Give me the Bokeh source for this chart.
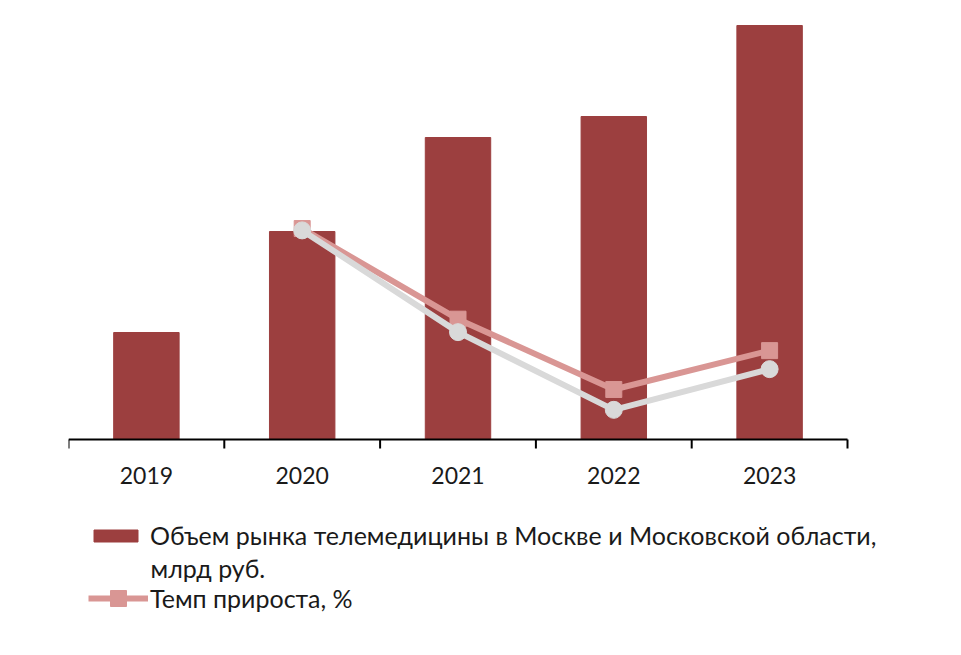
import math
from bokeh.plotting import figure
from bokeh.models import Range1d, Legend, LegendItem, Label
from bokeh.core.properties import value
from bokeh.embed import file_html
from bokeh.resources import INLINE

# ---- data ----
years = ["2019", "2020", "2021", "2022", "2023"]
market_volume = [10.7, 20.8, 30.2, 32.3, 41.4]          # млрд руб.
growth_years = ["2020", "2021", "2022", "2023"]
growth_rate = [94, 45, 7, 28]                          # %
growth_rate_2 = [93, 38, -4, 18]                       # second (grey) series, %

bar_label_1 = "Объем рынка телемедицины в Москве и Московской области,"
bar_label_2 = "млрд руб."
line_label = "Темп прироста, %"

FONT = "Lato"
BAR_COLOR = "#9C3F3F"
LINE_COLOR = "#D99694"
GREY_COLOR = "#D9D9D9"
TEXT_COLOR = "#1a1a1a"

x_bar = [years.index(y) for y in years]
x_line = [years.index(y) for y in growth_years]
boundaries = [i - 0.5 for i in range(len(years) + 1)]

# frame covers the whole lower/right area too, so the legend can sit inside it
FRAME_W = 893
PX_PER_CAT = 155.8
p = figure(frame_width=FRAME_W, frame_height=636, output_backend="svg", toolbar_location=None,
           x_range=Range1d(-0.5, -0.5 + FRAME_W / PX_PER_CAT), y_range=Range1d(-21.6, 42),
           min_border_left=68, min_border_right=0, min_border_top=19, min_border_bottom=0,
           x_axis_location=None, y_axis_location=None)
p.extra_y_ranges = {"rate": Range1d(-136.8, 207)}
p.outline_line_color = None
p.grid.visible = False
p.background_fill_color = "white"
p.border_fill_color = "white"

bars = p.vbar(x=x_bar, top=market_volume, width=0.42, color=BAR_COLOR)
pl = p.line(x=x_line, y=growth_rate, y_range_name="rate", color=LINE_COLOR, line_width=6)
ps = p.scatter(x=x_line, y=growth_rate, y_range_name="rate", marker="square", size=16,
               color=LINE_COLOR)
grey = p.line(x=x_line, y=growth_rate_2, y_range_name="rate", color=GREY_COLOR, line_width=6)
greyc = p.scatter(x=x_line, y=growth_rate_2, y_range_name="rate", marker="circle", size=17,
                  color=GREY_COLOR)

# category axis: baseline, boundary ticks and year labels
p.segment(x0=[boundaries[0]], x1=[boundaries[-1]], y0=[0], y1=[0], line_color="black",
          line_width=2)
p.ray(x=boundaries, y=[0] * len(boundaries), length=9, length_units="screen",
      angle=-math.pi / 2, line_color="black", line_width=2)
p.text(x=x_bar, y=[0] * len(years), text=years, y_offset=27, text_baseline="top",
       text_align="center", text_font=value(FONT), text_font_size="23px",
       text_color=TEXT_COLOR)


def style(lg):
    lg.label_text_font = FONT
    lg.label_text_font_size = "25px"
    lg.label_text_color = TEXT_COLOR
    lg.spacing = 0
    lg.padding = 0
    lg.margin = 0
    lg.border_line_color = None
    lg.background_fill_alpha = 0
    lg.label_height = 15


legend_a = Legend(items=[LegendItem(label=bar_label_1, renderers=[bars])], location=(20, 105))
style(legend_a)
legend_a.glyph_width = 55
legend_a.glyph_height = 15
legend_a.label_standoff = 7
p.add_layout(legend_a, "center")

legend_b = Legend(items=[LegendItem(label=line_label, renderers=[pl, ps])], location=(20, 37))
style(legend_b)
legend_b.glyph_width = 60
legend_b.glyph_height = 40
legend_b.label_standoff = 2
p.add_layout(legend_b, "center")

lbl = Label(x=82, y=88, x_units="screen", y_units="screen", text=bar_label_2,
            text_font=FONT, text_font_size="25px", text_color=TEXT_COLOR,
            text_baseline="alphabetic", text_align="left")
p.add_layout(lbl)

open("out.html", "w").write(file_html(p, INLINE))
